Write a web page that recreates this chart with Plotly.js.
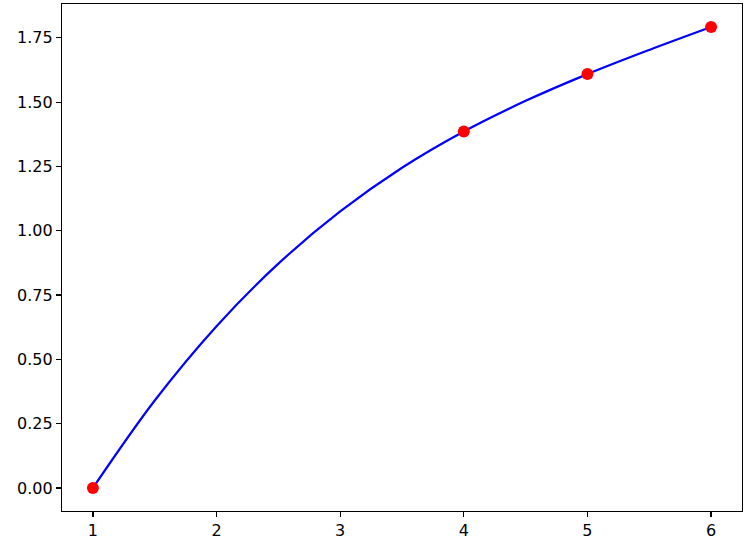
<!DOCTYPE html>
<html>
<head>
<meta charset="utf-8">
<script src="https://cdn.plot.ly/plotly-3.0.1.min.js"></script>
<style>html,body{margin:0;padding:0;background:#fff;}#chart{width:750px;height:546px;}</style>
</head>
<body>
<div id="chart"></div>
<script>
// Data points (red markers)
const pointX = [1, 4, 5, 6];
const pointY = [0, 1.386, 1.609, 1.792];

// Interpolated curve (blue line)
const curveX = [1, 1.5, 2, 2.5, 3, 3.5, 4, 4.5, 5, 5.5, 6];
const curveY = [0, 0.34, 0.629, 0.872, 1.075, 1.245, 1.386, 1.505, 1.609, 1.703, 1.792];

const xTicks = [1, 2, 3, 4, 5, 6];
const yTicks = [0, 0.25, 0.5, 0.75, 1.0, 1.25, 1.5, 1.75];
const yTickText = ['0.00', '0.25', '0.50', '0.75', '1.00', '1.25', '1.50', '1.75'];

const traces = [
  {
    x: curveX, y: curveY, type: 'scatter', mode: 'lines',
    line: {color: '#0000ff', width: 2.2, shape: 'spline', smoothing: 1},
    hoverinfo: 'skip'
  },
  {
    x: pointX, y: pointY, type: 'scatter', mode: 'markers',
    marker: {color: '#ff0000', size: 12}
  }
];

const axisCommon = {
  showgrid: false, zeroline: false, showline: true, mirror: true,
  linecolor: '#000', linewidth: 1.2,
  ticks: 'outside', ticklen: 5, tickwidth: 1.2, tickcolor: '#000',
  tickfont: {family: 'DejaVu Sans', size: 16, color: '#000'}
};

const layout = {
  width: 750, height: 546,
  margin: {l: 62, r: 8, t: 4, b: 35},
  paper_bgcolor: '#fff', plot_bgcolor: '#fff',
  showlegend: false,
  xaxis: Object.assign({}, axisCommon, {
    range: [0.75, 6.25], tickvals: xTicks, ticktext: xTicks.map(String)
  }),
  yaxis: Object.assign({}, axisCommon, {
    range: [-0.0896, 1.8816], tickvals: yTicks, ticktext: yTickText
  })
};

Plotly.newPlot('chart', traces, layout, {staticPlot: true});
</script>
</body>
</html>
